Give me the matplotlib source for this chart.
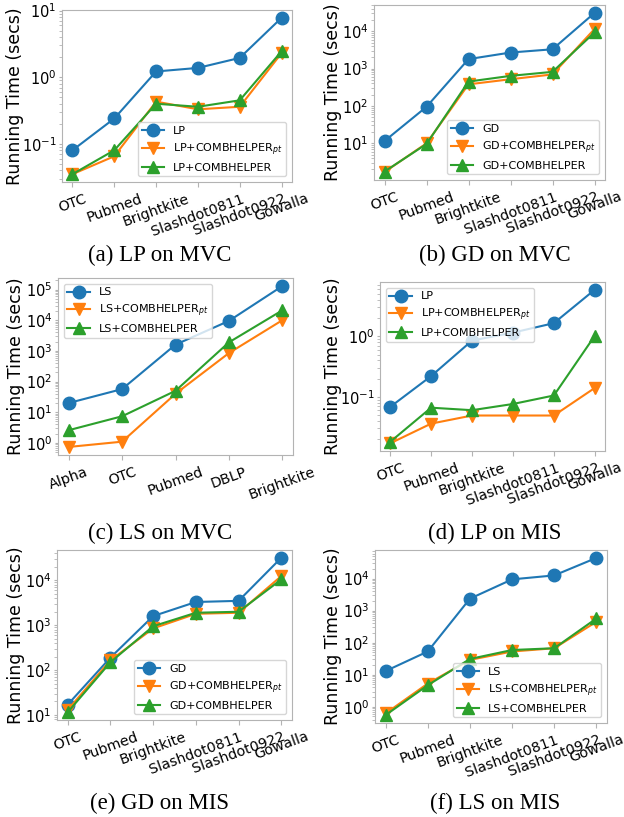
import numpy as np
import matplotlib
matplotlib.use('Agg')
import matplotlib.pyplot as plt
from matplotlib.ticker import LogLocator

plt.rcParams['axes.unicode_minus'] = False

# datasets on the x axis
graphs = ['OTC', 'Pubmed', 'Brightkite', 'Slashdot0811', 'Slashdot0922', 'Gowalla']
graphs_ls_mvc = ['Alpha', 'OTC', 'Pubmed', 'DBLP', 'Brightkite']

# (a) LP on MVC
lp_mvc = [0.08, 0.24, 1.22, 1.38, 1.95, 7.8]
lp_mvc_pt = [0.035, 0.065, 0.43, 0.33, 0.36, 2.3]
lp_mvc_cb = [0.035, 0.08, 0.40, 0.36, 0.45, 2.45]

# (b) GD on MVC
gd_mvc = [11.5, 95, 1800, 2700, 3300, 31000]
gd_mvc_pt = [1.7, 10, 380, 520, 700, 11500]
gd_mvc_cb = [1.75, 9.6, 450, 640, 820, 9300]

# (c) LS on MVC
ls_mvc = [20, 57, 1600, 9500, 130000]
ls_mvc_pt = [0.74, 1.1, 40, 850, 10000]
ls_mvc_cb = [2.6, 7.4, 50, 1900, 21000]

# (d) LP on MIS
lp_mis = [0.068, 0.22, 0.85, 1.15, 1.65, 5.9]
lp_mis_pt = [0.017, 0.036, 0.049, 0.049, 0.049, 0.14]
lp_mis_cb = [0.018, 0.066, 0.06, 0.076, 0.105, 1.02]

# (e) GD on MIS
gd_mis = [17, 190, 1600, 3300, 3500, 32000]
gd_mis_pt = [13, 165, 850, 1800, 1900, 12500]
gd_mis_cb = [11.5, 150, 950, 1900, 2000, 10500]

# (f) LS on MIS
ls_mis = [13, 53, 2350, 9400, 12500, 44000]
ls_mis_pt = [0.62, 5.3, 29, 53, 67, 450]
ls_mis_cb = [0.55, 4.7, 31, 59, 67, 570]

panels = [
    ('(a) LP on MVC', 'LP', graphs, lp_mvc, lp_mvc_pt, lp_mvc_cb, 'lower right'),
    ('(b) GD on MVC', 'GD', graphs, gd_mvc, gd_mvc_pt, gd_mvc_cb, 'lower right'),
    ('(c) LS on MVC', 'LS', graphs_ls_mvc, ls_mvc, ls_mvc_pt, ls_mvc_cb, 'upper left'),
    ('(d) LP on MIS', 'LP', graphs, lp_mis, lp_mis_pt, lp_mis_cb, 'upper left'),
    ('(e) GD on MIS', 'GD', graphs, gd_mis, gd_mis_pt, gd_mis_cb, 'lower right'),
    ('(f) LS on MIS', 'LS', graphs, ls_mis, ls_mis_pt, ls_mis_cb, 'lower right'),
]

W, H = 624, 817
# axes boxes in pixels: left, top, right, bottom
boxes = [
    (62, 10, 292, 182), (374, 5, 605, 180),
    (58, 278, 293, 455), (380, 282, 605, 451),
    (57, 550, 292, 720), (375, 550, 607, 723),
]
# right edge of the rotated y label, in pixels
ylabel_x = [24, 342, 25, 342, 25, 342]
captions_xy = [(160, 255), (495, 255), (160, 533), (495, 533), (160, 803), (495, 803)]

fig = plt.figure(figsize=(W / 100, H / 100), dpi=100)

for (title, algo, names, base, pt, cb, loc), (l, t, r, b), yl, (cx, cy) in zip(
        panels, boxes, ylabel_x, captions_xy):
    ax = fig.add_axes([l / W, 1 - b / H, (r - l) / W, (b - t) / H])
    x = np.arange(len(names))
    ax.plot(x, base, marker='o', markersize=9, lw=1.5, color='tab:blue', label=algo)
    ax.plot(x, pt, marker='v', markersize=9, lw=1.5, color='tab:orange',
            label=algo + r'+COMBHELPER$_{pt}$')
    ax.plot(x, cb, marker='^', markersize=9, lw=1.5, color='tab:green',
            label=algo + '+COMBHELPER')
    ax.set_yscale('log')
    ax.yaxis.set_major_locator(LogLocator(base=10, numticks=15))
    ax.set_xticks(x)
    ax.set_xticklabels(names, rotation=20, ha='center', fontsize=10.3)
    ax.tick_params(axis='y', which='major', labelsize=10.5, length=2.5, pad=1.5)
    ax.tick_params(which='both', color='0.7')
    for s in ax.spines.values():
        s.set_color('0.7')
    ax.set_ylabel('Running Time (secs)', fontsize=12.5)
    ax.yaxis.set_label_coords((yl - l) / (r - l), 0.5)
    ax.legend(loc=loc, fontsize=8, borderpad=0.35, labelspacing=0.45)
    fig.text(cx / W, 1 - cy / H, title, ha='center', va='center',
             fontsize=16.5, family='Liberation Serif')

fig.savefig('out.png', dpi=100)
